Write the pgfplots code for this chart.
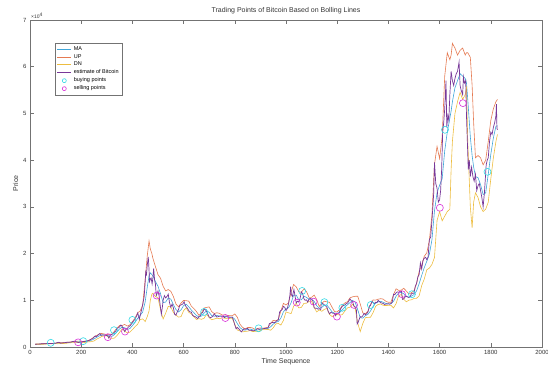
\documentclass[border=0pt]{standalone}
\usepackage{fontspec}
\setmainfont{Liberation Sans}
\usepackage{pgfplots}
\usepackage{pgfplotstable}
\pgfplotsset{compat=1.18}
\definecolor{maC}{rgb}{0.25,0.65,0.85}
\definecolor{upC}{rgb}{0.90,0.48,0.32}
\definecolor{dnC}{rgb}{0.93,0.74,0.25}
\definecolor{estC}{rgb}{0.47,0.22,0.60}
\definecolor{buyC}{rgb}{0.2,0.85,0.9}
\definecolor{sellC}{rgb}{0.85,0.2,0.85}
\definecolor{axC}{gray}{0.45}
\definecolor{txC}{gray}{0.2}
\pgfplotsset{circleg/.style={legend image code/.code={\draw[##1, draw=#1] (0.25cm,0cm) circle (2pt);}},
  lineleg/.style={legend image code/.code={\draw[##1, draw=#1, line width=0.8pt] (0cm,0cm) -- (0.5cm,0cm);}}}
\pgfplotstableread{
x ma up dn
20 602 626 578
30 610 639 581
40 622 658 588
50 655 730 580
60 695 760 630
70 710 742 678
80 720 764 676
90 742 791 693
100 770 826 714
110 832 962 702
120 880 994 766
130 865 979 751
140 890 1004 776
150 955 1039 871
160 1002 1082 922
170 1075 1217 933
180 1137 1254 1020
190 1095 1249 941
200 1030 1127 933
210 1070 1212 928
220 1167 1307 1027
230 1270 1429 1111
240 1437 1728 1146
250 1725 2162 1288
260 2050 2442 1658
270 2362 2791 1933
280 2575 2900 2250
290 2575 2790 2360
300 2512 2642 2382
310 2362 2736 1988
320 2287 2741 1833
330 2650 3390 1910
340 3275 4088 2462
350 3875 4596 3154
360 4250 4598 3902
370 4100 4828 3372
380 3750 4468 3032
390 3950 4729 3171
400 4575 5427 3723
410 5250 6178 4322
420 6075 7302 4848
430 6775 7693 5857
440 7450 8884 6016
450 9700 14500 5449
458 12800 19500 6500
465 15200 22700 7700
470 15875 21000 10000
476 15500 20000 11300
480 15250 19000 11500
490 14000 17200 10800
500 13000 15500 10500
510 11375 14700 8000
520 9500 13000 6000
530 9625 12000 7250
540 10500 12300 8700
550 10250 11932 8568
560 9100 10803 7397
570 8025 9201 6849
580 7500 8605 6395
590 7950 9398 6502
600 8875 9966 7784
610 9150 9920 8380
620 8625 9819 7431
630 7925 8768 7082
640 7350 8230 6470
650 6750 7612 5888
660 6425 6783 6067
670 6625 7319 5931
680 7250 8348 6152
690 7750 8478 7022
700 7425 8583 6267
710 6700 7561 5839
720 6575 7157 5993
730 6750 7332 6168
740 6625 7207 6043
750 6550 6857 6243
760 6525 6886 6164
770 6425 6786 6064
780 6412 6714 6110
790 6400 6674 6126
800 5962 7076 4848
810 5000 6360 3640
820 4175 4905 3445
830 3725 4222 3228
840 3600 3873 3327
850 3775 4163 3387
860 3850 4186 3514
870 3675 4060 3290
880 3550 3712 3388
890 3650 3980 3320
900 3812 4091 3533
910 3875 4018 3732
920 3912 4111 3713
930 4000 4230 3770
940 4325 5060 3590
950 4900 5707 4093
960 5275 5598 4952
970 5475 5914 5036
980 6200 7706 4694
990 7525 9346 5704
1000 8250 8993 7507
1010 8400 9477 7323
1020 9475 11794 7156
1030 11075 13400 8750
1040 11100 12863 9337
1050 10100 11833 8367
1060 10100 11723 8477
1070 10875 12411 9339
1080 10625 11879 9371
1090 10200 10616 9784
1100 10225 10641 9809
1110 9775 11113 8437
1120 8825 10135 7515
1130 8300 8659 7941
1140 8500 9360 7640
1150 8950 9823 8077
1160 8950 9658 8242
1170 8275 9568 6982
1180 7500 8495 6505
1190 7225 7552 6898
1200 7250 7522 6978
1210 7425 8033 6817
1220 7950 8958 6942
1230 8575 9437 7713
1240 9025 9681 8369
1250 9525 10526 8524
1260 9950 10743 9157
1270 9625 10849 8401
1280 8000 10880 5120
1290 6275 9200 3300
1300 6175 7295 5055
1310 6700 7121 6279
1320 7000 7650 6350
1330 7700 9031 6369
1340 8700 10061 7339
1350 9375 10041 8709
1360 9675 10240 9110
1370 9775 10340 9210
1380 9575 10247 8903
1390 9325 9770 8880
1400 9237 9569 8905
1410 9250 9582 8918
1420 9787 11209 8365
1430 10875 12466 9284
1440 11550 12116 10984
1450 11700 12161 11239
1460 11400 12567 10233
1470 10825 11975 9675
1480 10675 11325 10025
1490 10875 11641 10109
1500 11225 12057 10393
1510 12000 13570 10430
1520 13550 16157 10943
1530 15325 17490 13160
1540 16975 19409 14541
1550 18350 20165 16535
1560 19850 22811 16889
1570 22925 28178 17672
1580 29125 39074 19176
1590 33000 42925 27075
1600 34625 40339 29000
1610 36000 45000 27000
1620 42000 58000 28000
1630 46000 63000 29000
1640 49000 61500 29500
1645 50500 62500 38000
1650 52500 65000 44000
1660 55500 64000 50000
1670 57000 62500 52500
1680 58500 63500 54500
1690 58000 64000 53000
1700 57500 62500 54000
1705 56500 63000 55500
1710 53000 63000 44000
1720 45000 62000 30000
1727 41000 56000 25500
1733 38500 48000 31000
1740 36500 40500 33000
1750 36250 41000 32000
1760 34750 40500 30000
1770 32625 39000 29000
1780 33000 40000 29500
1790 37000 44000 31000
1800 41250 48500 36000
1810 44750 51000 40500
1820 47250 52500 44000
1826 47375 53000 45500
}\bands
\pgfplotstableread{
x est
20 610
25 605
30 620
35 615
40 640
45 700
50 720
55 690
60 700
65 730
70 720
75 740
80 740
85 760
90 770
95 790
100 800
105 900
110 980
113 1010
117 890
120 800
125 850
130 900
135 920
140 960
145 1000
150 1000
155 1020
160 1050
165 1150
170 1200
175 1230
180 1100
185 1020
190 980
195 1000
200 1060
205 1120
210 1180
215 1200
220 1250
225 1320
230 1400
235 1550
240 1700
245 1800
250 2100
255 2400
258 2200
263 2400
270 2750
273 2900
278 2500
285 2600
290 2550
295 2500
300 2450
305 2300
308 1900
313 2500
318 2700
325 2800
330 3200
335 3400
340 4000
345 4100
350 4300
355 4700
360 4400
365 3900
370 3300
375 3800
380 4000
385 4300
390 4500
395 4800
400 5300
405 5600
410 5900
416 6600
421 7300
427 5900
432 7100
436 8000
441 9300
446 10800
450 14000
452 16000
455 15500
458 17500
462 19300
465 16500
467 14000
470 14500
473 14800
477 13500
480 14800
483 16800
487 14200
490 13500
493 11000
497 11500
500 12000
504 11000
508 9200
513 7000
517 8500
520 10000
525 11000
530 10500
536 10900
540 11300
545 9500
550 8500
555 9200
560 8400
565 7000
570 6800
575 7500
580 8000
585 8900
590 9000
597 9200
602 9700
606 9000
610 8600
615 8300
620 7800
625 7500
630 7500
635 6800
640 6600
645 6500
650 6300
655 6100
660 6500
665 6700
670 7200
675 7400
680 8100
685 8000
690 7600
695 7000
700 6400
705 6300
710 6400
715 6700
720 7100
725 6700
730 6400
735 6500
740 6600
745 6650
750 6600
755 6550
760 6300
765 6500
770 6500
775 6400
780 6350
790 6400
795 5700
800 4700
805 3900
810 4200
815 3900
820 3600
826 3250
830 3500
835 3900
840 3800
845 3900
850 4000
855 3600
860 3600
865 3550
870 3500
875 3450
880 3600
885 3850
890 3900
895 3800
900 3850
905 3850
910 3900
915 3950
920 4000
925 4050
930 4100
935 5000
940 5100
945 5200
950 5300
955 5200
960 5400
965 5700
970 5800
975 7500
980 7800
985 8000
990 8700
995 8500
1000 7800
1005 8200
1010 9300
1015 11000
1018 12900
1021 11200
1025 10800
1031 12300
1035 11000
1040 9400
1045 9800
1050 9600
1055 10400
1060 11800
1065 11400
1070 10300
1075 10000
1080 10100
1085 9600
1090 10300
1095 10400
1100 10200
1105 9900
1110 8400
1115 8300
1120 8300
1125 8100
1130 8200
1136 8000
1138 9500
1142 9300
1146 9200
1150 9000
1155 8800
1160 8500
1165 7600
1170 7100
1175 7400
1180 7300
1185 7200
1190 7200
1194 6700
1198 7200
1203 7200
1207 7200
1212 8000
1216 8400
1220 8700
1225 8900
1230 9000
1235 9300
1240 9400
1245 9800
1250 10300
1255 9900
1260 9800
1265 8800
1270 8600
1275 7900
1278 4900
1282 5300
1285 5800
1290 6500
1295 6400
1300 6700
1305 7200
1310 6900
1315 7100
1320 7500
1326 8800
1330 8900
1336 9800
1340 9500
1345 9300
1350 9600
1355 9500
1360 10000
1365 9700
1370 9500
1375 9400
1380 9300
1385 9100
1390 9200
1395 9200
1400 9250
1405 9150
1410 9300
1415 9600
1420 11300
1425 11200
1430 11600
1435 11800
1440 11700
1445 11900
1451 11900
1455 10200
1460 10300
1465 10700
1470 10900
1475 10700
1480 10600
1485 10800
1490 11400
1495 11500
1500 11500
1505 13000
1510 13600
1515 15000
1520 15500
1525 18000
1530 16700
1535 18500
1540 19000
1545 19200
1550 18700
1555 19300
1560 23000
1565 23500
1570 27000
1573 29400
1577 33000
1580 39500
1585 35000
1590 34000
1595 31000
1600 31500
1604 33500
1608 38000
1612 46000
1616 48000
1620 51000
1625 57000
1628 47000
1632 49600
1636 48500
1640 54000
1645 59000
1650 57000
1655 56000
1660 57500
1665 58500
1670 59000
1676 61000
1680 56000
1684 55000
1690 54000
1693 57800
1697 56500
1702 57000
1705 49500
1709 43000
1712 38000
1716 40000
1720 36500
1725 38500
1730 36500
1735 35500
1740 37000
1745 33500
1750 34500
1755 35000
1760 33500
1765 32000
1770 30000
1775 33000
1778 35500
1782 39000
1786 40000
1790 40500
1795 44000
1800 46000
1805 45500
1810 47000
1815 48000
1820 49500
1822 52000
1824 46800
1826 46500
}\estim
\begin{document}
\begin{tikzpicture}
\begin{axis}[name=ax, scale only axis, width=512pt, height=327pt,
  xmin=0, xmax=2000, ymin=0, ymax=70000,
  xtick={0,200,...,2000},
  ytick={0,10000,20000,30000,40000,50000,60000,70000},
  yticklabels={0,1,2,3,4,5,6,7},
  scaled y ticks=false, scaled x ticks=false,
  /pgf/number format/assume math mode=true,
  /pgf/number format/set thousands separator={},
  tick align=inside, major tick length=4pt,
  tick style={axC, line width=0.5pt},
  axis line style={axC, line width=0.6pt},
  tick label style={font=\fontsize{6}{7}\selectfont, text=txC},
  xlabel={Time Sequence}, ylabel={Price},
  label style={font=\fontsize{7}{8}\selectfont, text=txC},
  xlabel style={yshift=3pt}, ylabel style={yshift=-2pt},
  title={Trading Points of Bitcoin Based on Bolling Lines},
  title style={font=\fontsize{7}{8}\selectfont, text=txC, yshift=-3pt},
  legend style={at={(0.049,0.93)}, anchor=north west,
    font=\fontsize{5.5}{6}\selectfont, draw=axC,
    inner sep=1.5pt, row sep=-1.5pt, legend cell align=left},
]
\addplot[color=maC, line width=0.6pt, lineleg=maC] table[x=x, y=ma] {\bands};
\addlegendentry{MA}
\addplot[color=upC, line width=0.6pt, lineleg=upC] table[x=x, y=up] {\bands};
\addlegendentry{UP}
\addplot[color=dnC, line width=0.6pt, lineleg=dnC] table[x=x, y=dn] {\bands};
\addlegendentry{DN}
\addplot[color=estC, line width=0.7pt, lineleg=estC] table[x=x, y=est] {\estim};
\addlegendentry{estimate of Bitcoin}
\addplot[only marks, mark=o, mark size=3.5pt, color=buyC, line width=0.6pt, circleg=buyC] coordinates {
(81,900)(208,1250)(328,3600)(400,5800)(680,7500)(893,4000)(1063,12000)(1150,9600)(1220,8400)(1331,9000)(1492,11300)(1621,46500)(1787,37500)};
\addlegendentry{buying points}
\addplot[only marks, mark=o, mark size=3.5pt, color=sellC, line width=0.6pt, circleg=sellC] coordinates {
(188,1000)(304,2100)(371,3300)(495,11000)(763,6200)(1042,9500)(1108,9700)(1199,6500)(1266,9000)(1453,11300)(1601,29800)(1691,52200)};
\addlegendentry{selling points}
\end{axis}
\node[anchor=south west, font=\fontsize{5}{6}\selectfont, text=txC, inner sep=1pt] at (ax.north west) {×10\textsuperscript{4}};
\pgfresetboundingbox
\path ([xshift=-30pt,yshift=-27pt]ax.south west) rectangle ([xshift=6pt,yshift=20pt]ax.north east);
\end{tikzpicture}
\end{document}
